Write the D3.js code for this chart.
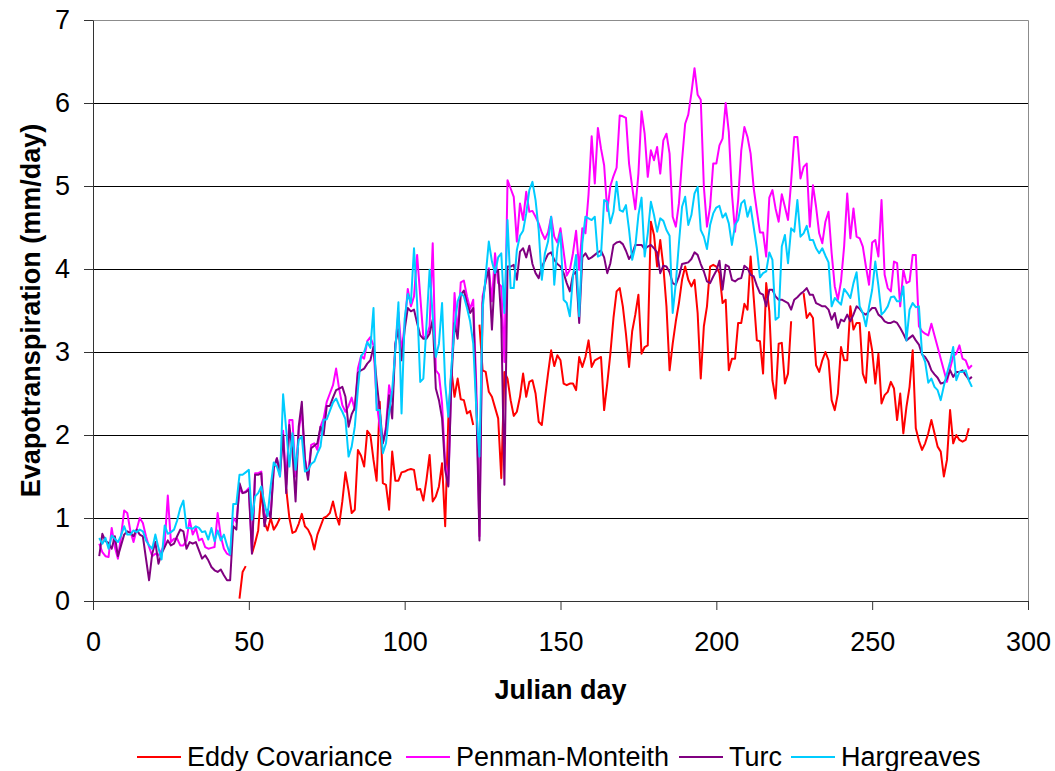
<!DOCTYPE html>
<html>
<head>
<meta charset="utf-8">
<script src="https://cdn.jsdelivr.net/npm/d3@7"></script>
<style>
  body { margin: 0; background: #fff; }
  svg { display: block; }
  text { font-family: "Liberation Sans", Arial, Helvetica, sans-serif; }
</style>
</head>
<body>
<div id="chart"></div>
<script>
/* Data: one value per Julian day, starting at firstDay (null = no measurement) */
const firstDay = 2;

const seriesNames = ["Eddy Covariance", "Penman-Monteith", "Turc", "Hargreaves"];

const eddyCovariance = [
  null, null, null, null, null, null, null, null, null, null,
  null, null, null, null, null, null, null, null, null, null,
  null, null, null, null, null, null, null, null, null, null,
  null, null, null, null, null, null, null, null, null, null,
  null, null, null, null, null,
  0.03, 0.35, 0.42, null, 0.57, 0.7, 0.85, 1.33, 0.95, 0.85,
  1.0, 0.86, 0.92, 1.0, null, 1.35, 1.0, 0.82, 0.84, 0.93,
  1.05, 0.9, 0.86, 0.78, 0.62, 0.8, 0.9, 1.0, 1.02, 1.06,
  1.2, 1.03, 0.92, 1.2, 1.55, 1.33, 1.06, 1.1, 1.82, 1.75,
  1.62, 2.05, 2.0, 1.7, 1.45, 2.4, 1.42, 1.4, 1.1, 1.8,
  1.45, 1.45, 1.55,
  1.56, 1.58, 1.59, 1.58, 1.34, 1.35, 1.21, 1.46, 1.76, 1.2,
  1.26, 1.38, 1.66, 0.9, 2.18, 2.78, 2.46, 2.68, 2.43, 2.42,
  2.26, 2.29, 2.12, null, 3.33, 2.78, 2.76, 2.52, 2.46, 2.33,
  2.2, 1.48, 2.76, 2.68, 2.42, 2.23, 2.28, 2.46, 2.74, 2.46,
  2.64,
  2.66, 2.5, 2.16, 2.12, 2.44, 2.74, 3.02, 2.83, 2.96, 2.9,
  2.62, 2.6, 2.62, 2.62, 2.54, 2.94, 2.82, 2.94, 3.14, 2.82,
  2.9, 2.92, 2.94, 2.3, 2.62, 2.98, 3.41, 3.73, 3.77, 3.55,
  3.22, 2.82, 3.25, 3.45, 3.69,
  2.98, 3.06, 3.08, 4.57, 4.41, 4.03, 4.35, 4.03, 3.55, 2.78,
  3.1, 3.37, 3.59, 3.87, 4.03, 3.87, 3.79, 3.87, 3.47, 2.68,
  3.31, 3.55, 4.03, 4.05, 4.03, 3.95, 3.59, 3.63, 2.78, 2.92,
  2.92, 3.35, 3.35, 3.58, 3.51, 4.15, 3.65, 3.14, 3.13,
  2.74, 3.83, 3.49, 2.66, 2.44, 3.1, 3.11, 2.62, 2.74, 3.37,
  null, null, null, 3.71, 3.41, 3.47, 3.41, 2.84, 2.76, 2.9,
  3.0, 2.9, 2.42, 2.3, 2.5, 3.06, 2.9, 2.9, 3.55, 3.27,
  3.35, 3.35, 2.74, 2.63, 3.24, 3.02, 2.62, 2.98,
  2.38, 2.48, 2.52, 2.64, 2.56, 2.18, 2.5, 2.02, 2.34, 2.58,
  3.02, 2.08, 1.93, 1.82, 1.9, 2.02, 2.18, 2.02, 1.86, 1.8,
  1.5, 1.7, 2.3, 1.9, 2.0, 1.94, 1.92, 1.94, 2.08, null
];

const penmanMonteith = [
  0.69, 0.59, 0.54, 0.53, 0.88, 0.65, 0.51, 0.78, 1.09, 1.06,
  0.84, 0.71, 0.86, 1.0, 0.94, 0.78, 0.65, 0.54, 0.57, 0.55,
  0.61, 0.69, 1.27, 0.71, 0.75, 0.75, 0.67, 0.67, 0.73, 0.98,
  0.8, 0.88, 0.73, 0.75, 0.65, 0.63, 0.64, 0.65, 1.06, 0.78,
  0.63, 0.57, 0.55, 1.0, 0.95,
  1.35, 1.3, 1.32, 1.36, 0.6, 1.54, 1.54, 1.56, 0.95, 1.1,
  1.05, 1.6, 1.72, 1.5, 2.05, 1.4, 2.18, 2.18, 1.5, 2.05,
  2.3, 1.72, 1.5, 1.88, 1.9, 1.82, 2.1, 2.2, 2.4, 2.5,
  2.6, 2.8, 2.55, 2.36, 2.28, 2.35, 2.45, 2.3, 2.8, 2.95,
  2.92, 3.13, 3.18, 3.08, 2.4, 2.1, 1.9, 2.1, 2.6, 2.4,
  3.06, 3.48, 3.0,
  3.33, 3.76, 3.55, 3.67, 4.17, 3.67, 3.18, 3.18, 3.31, 4.31,
  2.78, 2.73, 2.38, 1.66, 1.4, 2.7, 3.71, 3.22, 3.84, 3.86,
  3.67, 3.52, 3.63, 2.58, 0.78, 3.67, 3.84, 4.01, 3.61, 4.19,
  3.83, 3.79, 2.88, 5.07, 4.97, 4.87, 4.33, 4.79, 4.59, 4.93,
  4.69,
  4.7, 4.63, 4.55, 4.44, 4.36, 4.44, 4.63, 4.39, 4.32, 4.49,
  4.21, 3.92, 3.99, 4.19, 4.46, 3.99, 4.49, 4.43, 4.9, 5.6,
  5.03, 5.7, 5.45, 5.25, 4.7, 5.0, 5.12, 5.22, 5.85, 5.84,
  5.82, 5.27, 4.99, 4.72, 5.15,
  5.9, 5.63, 5.11, 5.43, 5.31, 5.47, 5.15, 5.55, 5.63, 5.39,
  4.63, 4.51, 4.79, 5.31, 5.75, 5.86, 6.12, 6.42, 6.1, 6.04,
  4.99, 4.51, 4.75, 5.27, 5.27, 5.49, 5.57, 6.0, 5.65, 4.91,
  4.45, 4.83, 5.43, 5.71, 5.59, 5.39, 4.97, 4.7, 4.44,
  4.44, 4.15, 4.86, 4.95, 4.73, 4.57, 4.9, 4.75, 4.59, 5.05,
  5.59, 5.59, 5.09, 5.23, 5.27, 4.51, 5.01, 4.75, 4.43, 4.31,
  4.57, 4.69, 4.19, 3.79, 3.63, 3.85, 4.27, 4.91, 4.37, 4.73,
  4.39, 4.37, 4.27, 4.03, 3.81, 4.32, 4.35, 4.15,
  4.83, 3.93, 3.77, 3.73, 4.09, 4.07, 3.55, 3.99, 3.83, 3.85,
  4.17, 4.17, 3.31, 3.25, 3.22, 3.2, 3.34, 3.2, 3.06, 2.92,
  2.78, 2.64, 2.8, 2.95, 2.98, 3.08, 2.92, 2.9, 2.8, 2.84
];

const turc = [
  0.54, 0.81, 0.72, 0.7, 0.63, 0.78, 0.54, 0.67, 0.8, 0.84,
  0.82, 0.78, 0.86, 0.8, 0.78, 0.51, 0.25, 0.57, 0.71, 0.45,
  0.57, 0.65, 0.73, 0.67, 0.69, 0.78, 0.86, 0.84, 0.63, 0.71,
  0.69, 0.71, 0.61, 0.51, 0.55, 0.49, 0.41, 0.37, 0.35, 0.38,
  0.31, 0.25, 0.25, 0.9, 0.86,
  1.42, 1.3, 1.31, 1.34, 0.57, 1.52, 1.52, 1.54, 0.9, 1.1,
  1.0, 1.6, 1.72, 1.55, 2.0, 1.3, 2.12, 1.8, 1.2, 2.1,
  2.4, 1.7, 1.46, 1.84, 1.87, 1.9, 2.1, 2.0, 2.35, 2.35,
  2.45, 2.54, 2.56, 2.58, 2.46, 2.1, 2.25, 2.33, 2.75, 2.78,
  2.8, 2.86, 2.9, 3.06, 2.65, 2.3, 1.9, 2.06, 2.48, 2.2,
  3.1, 3.27, 2.9,
  3.27, 3.53, 3.49, 3.51, 3.35, 3.2, 3.16, 3.16, 3.22, 3.39,
  2.56, 2.42, 2.2, 1.58, 1.38, 2.66, 3.35, 3.16, 3.69, 3.74,
  3.59, 3.47, 3.53, 2.38, 0.73, 3.59, 3.87, 3.99, 3.27, 3.96,
  3.98, 3.39, 1.4, 4.03, 4.03, 4.05, 3.87, 4.21, 4.25, 4.14,
  4.28,
  4.06, 3.95, 3.89, 4.03, 4.1, 4.18, 4.2, 4.11, 4.06, 4.03,
  3.95, 3.83, 3.73, 3.93, 3.97, 3.35, 4.14, 4.19, 4.12, 4.14,
  4.17, 4.2, 4.22, 4.14, 3.95, 4.07, 4.29, 4.32, 4.33, 4.3,
  4.22, 4.12, 4.18, 4.29, 4.29,
  4.29, 4.24, 4.27, 4.29, 4.25, 4.2, 3.95, 4.04, 4.03, 3.96,
  3.83, 3.81, 3.91, 4.06, 4.07, 4.08, 4.12, 4.2, 4.17, 4.06,
  3.97, 3.85, 3.83, 3.91, 3.98, 4.1, 3.75, 4.05, 4.03, 3.87,
  3.85, 3.88, 3.89, 4.04, 4.01, 3.93, 3.91, 3.8, 3.71,
  3.69, 3.55, 3.75, 3.75, 3.67, 3.63, 3.63, 3.61, 3.59, 3.51,
  3.63, 3.66, 3.7, 3.73, 3.77, 3.69, 3.69, 3.59, 3.57, 3.55,
  3.55, 3.51, 3.39, 3.47, 3.29, 3.39, 3.37, 3.45, 3.37, 3.45,
  3.55, 3.52, 3.47, 3.45, 3.49, 3.53, 3.53, 3.45,
  3.42, 3.37, 3.35, 3.35, 3.37, 3.35, 3.29, 3.22, 3.14, 3.17,
  3.2, 3.14, 3.09, 2.97, 2.94, 2.88, 2.78, 2.73, 2.69, 2.62,
  2.63, 2.68, 2.78, 2.7, 2.76, 2.76, 2.78, 2.72, 2.67, 2.7
];

const hargreaves = [
  0.76, 0.69, 0.76, 0.63, 0.79, 0.75, 0.71, 0.79, 0.9, 0.8,
  0.8, 0.85, 0.83, 0.86, 0.84, 0.73, 0.67, 0.63, 0.8, 0.64,
  0.5, 0.91, 0.81, 0.83, 0.86, 0.97, 1.12, 1.21, 0.88, 0.88,
  0.87, 0.9, 0.88, 0.83, 0.84, 0.74, 0.88, 0.72, 0.85, 0.73,
  0.8, 0.67, 0.56, 1.17, 1.17,
  1.52, 1.52, 1.55, 1.58, 0.98, 1.26, 1.3, 1.38, 1.18, 1.02,
  1.38, 1.67, 1.62, 1.5, 2.49, 2.06, 1.62, 2.02, 1.58, 1.94,
  1.98, 1.56, 1.58, 1.65, 1.68, 1.78, 1.86, 2.18, 2.19, 2.29,
  2.39, 2.44, 2.35, 2.28, 2.19, 1.74, 1.86, 2.1, 2.55, 2.95,
  3.0, 3.12, 3.05, 3.53, 2.3, 2.3, 1.78, 1.9, 2.26, 2.54,
  3.02, 3.6, 2.26,
  3.4, 3.7, 3.59, 4.25, 3.59, 2.64, 2.68, 3.33, 3.99, 3.43,
  2.94, 3.1, 3.59, 2.62, 2.22, 2.82, 3.31, 3.61, 3.71, 3.67,
  3.53, 3.37, 3.1, 2.3, 1.74, 3.51, 3.92, 4.33, 4.09, 3.95,
  4.14, 4.19, 3.47, 4.59, 3.77, 3.77, 4.23, 4.4, 4.46, 4.67,
  4.95,
  5.05, 4.83, 4.47, 3.87, 4.19, 4.33, 4.63, 3.81, 4.25, 4.43,
  3.63, 3.59, 3.43, 3.91, 4.17, 3.43, 4.31, 4.63, 4.61, 4.59,
  4.63, 4.15, 4.17, 4.83, 4.81, 4.55, 4.69, 5.05, 4.71, 4.69,
  4.77, 4.47, 4.11, 4.27, 4.65,
  4.86, 4.15, 4.43, 4.81, 4.65, 4.45, 4.61, 4.58, 4.47, 4.4,
  3.47, 3.83, 4.31, 4.75, 4.87, 4.53, 4.65, 4.91, 4.99, 4.47,
  4.39, 4.24, 4.53, 4.67, 4.74, 4.76, 4.62, 4.67, 4.55, 4.29,
  4.53, 4.59, 4.79, 4.83, 4.63, 4.75, 4.5, 4.25, 3.9,
  3.95, 3.97, 4.2, 4.11, 3.39, 3.42, 4.27, 4.41, 4.07, 4.49,
  4.45, 4.83, 4.39, 4.43, 4.52, 4.35, 4.35, 4.25, 4.19, 4.25,
  4.16, 4.08, 3.55, 3.65, 3.61, 3.57, 3.76, 3.71, 3.65, 3.83,
  3.96, 3.55, 3.47, 3.31, 3.55, 3.75, 4.09, 3.8,
  3.45, 3.49, 3.55, 3.66, 3.67, 3.61, 3.61, 3.79, 3.14, 3.51,
  3.59, 3.54, 3.55, 2.98, 2.88, 2.63, 2.68, 2.58, 2.54, 2.42,
  2.59, 2.74, 2.88, 3.06, 2.66, 2.76, 2.76, 2.78, 2.66, 2.58
];

const xTicks = [0, 50, 100, 150, 200, 250, 300];
const yTicks = [0, 1, 2, 3, 4, 5, 6, 7];

const seriesColors = ["#ff0000", "#ff00ff", "#800080", "#00ccff"];

/* Dimensions */
const width = 1055;
const height = 771;
const plot = { left: 93, right: 1028, top: 20, bottom: 601 };

const svg = d3.select("#chart")
  .append("svg")
  .attr("width", width)
  .attr("height", height);

svg.append("rect")
  .attr("width", width)
  .attr("height", height)
  .attr("fill", "#fff");

/* Scales */
const xScale = d3.scaleLinear()
  .domain([0, 300])
  .range([plot.left, plot.right]);

const yScale = d3.scaleLinear()
  .domain([0, 7])
  .range([plot.bottom, plot.top]);

// Horizontal gridlines (skip 0 and 7, those are the axis and the frame)
svg.append("g")
  .attr("transform", `translate(${plot.left},0)`)
  .call(
    d3.axisLeft(yScale)
      .tickValues(yTicks.filter(v => v > 0 && v < 7))
      .tickSize(-(plot.right - plot.left))
      .tickFormat("")
  )
  .call(g => g.select(".domain").remove())
  .call(g => g.selectAll(".tick line").attr("stroke", "#000"));

// Frame: top and right edges
svg.append("path")
  .attr("d", `M${plot.left},${plot.top + 0.5}H${plot.right + 0.5}V${plot.bottom}`)
  .attr("fill", "none")
  .attr("stroke", "#8c8c8c")
  .attr("stroke-width", 1);

/* Lines */
const seriesData = [eddyCovariance, penmanMonteith, turc, hargreaves];

const line = d3.line()
  .defined(d => d.value != null)
  .x(d => xScale(d.day))
  .y(d => yScale(d.value));

seriesData.forEach((values, i) => {
  const points = values.map((v, j) => ({ day: firstDay + j, value: v }));
  svg.append("path")
    .datum(points)
    .attr("fill", "none")
    .attr("stroke", seriesColors[i])
    .attr("stroke-width", 2)
    .attr("stroke-linejoin", "round")
    .attr("d", line);
});

/* Axes */
// Y-axis
svg.append("g")
  .attr("transform", `translate(${plot.left},0)`)
  .call(
    d3.axisLeft(yScale)
      .tickValues(yTicks)
      .tickFormat(d3.format("d"))
      .tickSize(9)
      .tickPadding(14)
      .tickSizeOuter(0)
  )
  .call(g => g.select(".domain").attr("stroke", "#333"))
  .call(g => g.selectAll(".tick line").attr("stroke", "#333"))
  .call(g => g.selectAll("text")
    .attr("fill", "#000")
    .style("font-size", "27px")
    .style("font-family", '"Liberation Sans", Arial, sans-serif'));

// X-axis
svg.append("g")
  .attr("transform", `translate(0,${plot.bottom})`)
  .call(
    d3.axisBottom(xScale)
      .tickValues(xTicks)
      .tickFormat(d3.format("d"))
      .tickSize(9)
      .tickPadding(22)
      .tickSizeOuter(0)
  )
  .call(g => g.select(".domain").attr("stroke", "#333"))
  .call(g => g.selectAll(".tick line").attr("stroke", "#333"))
  .call(g => g.selectAll("text")
    .attr("fill", "#000")
    .style("font-size", "27px")
    .style("font-family", '"Liberation Sans", Arial, sans-serif'));

// X-label
svg.append("text")
  .attr("x", (plot.left + plot.right) / 2)
  .attr("y", 699)
  .attr("text-anchor", "middle")
  .style("font-size", "27px")
  .style("font-weight", "bold")
  .text("Julian day");

// Y-label
// Swap x/y and set x to negative for rotate to work
svg.append("text")
  .attr("x", -(plot.top + plot.bottom) / 2)
  .attr("y", 40)
  .attr("text-anchor", "middle")
  .attr("transform", "rotate(-90)")
  .style("font-size", "27px")
  .style("font-weight", "bold")
  .text("Evapotranspiration (mm/day)");

/* Legend */
const legendX = [137, 406, 679, 791];
const legendY = 757;

const legend = svg.append("g");
seriesNames.forEach((name, i) => {
  legend.append("line")
    .attr("x1", legendX[i])
    .attr("x2", legendX[i] + 44)
    .attr("y1", legendY)
    .attr("y2", legendY)
    .attr("stroke", seriesColors[i])
    .attr("stroke-width", 2);
  legend.append("text")
    .attr("x", legendX[i] + 50)
    .attr("y", legendY + 9)
    .style("font-size", "27px")
    .text(name);
});
</script>
</body>
</html>
